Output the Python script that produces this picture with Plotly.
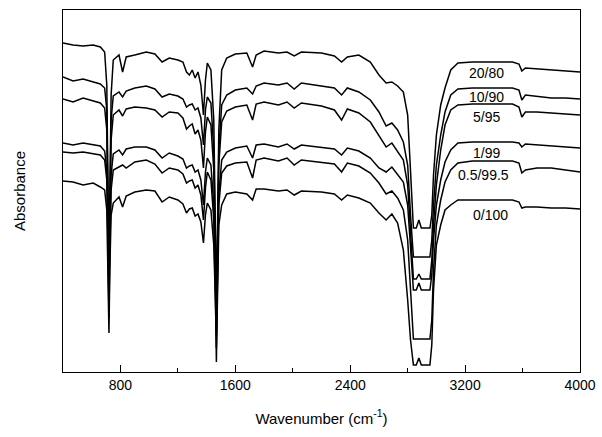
import plotly.graph_objects as go

# Wavenumber grid (cm-1) shared by all spectra
wavenumber = [400, 470, 540, 610, 660, 690, 705, 714, 720, 726, 735, 750, 790, 815, 840, 900, 980, 1040,
              1090, 1140, 1200, 1235, 1260, 1280, 1300, 1320, 1340, 1360, 1378, 1392, 1405, 1430, 1450,
              1463, 1468, 1473, 1485, 1505, 1540, 1600, 1680, 1720, 1745, 1800, 1900, 1960, 2010, 2060,
              2200, 2290, 2340, 2380, 2460, 2540, 2600, 2650, 2690, 2730, 2770, 2800, 2820, 2840, 2860,
              2878, 2895, 2930, 2955, 2968, 2980, 3000, 3030, 3060, 3100, 3150, 3250, 3400, 3530, 3575,
              3595, 3620, 3700, 3800, 3900, 4000]

# Absorbance (arbitrary units, stacked)
a_20_80 = [3.29, 3.27, 3.26, 3.27, 3.25, 3.20, 2.87, 1.72, 0.97, 1.72, 2.77, 3.12, 3.17, 3.00, 3.15, 3.17, 3.20, 3.18,
           3.10, 3.14, 3.12, 3.10, 3.00, 2.97, 3.02, 2.94, 3.00, 2.87, 2.57, 2.92, 3.09, 3.02, 2.52,
           1.22, 0.72, 1.12, 2.42, 3.02, 3.14, 3.18, 3.19, 3.05, 3.17, 3.21, 3.19, 3.20, 3.16, 3.20,
           3.19, 3.16, 3.10, 3.15, 3.17, 3.10, 2.97, 2.89, 2.90, 2.86, 2.80, 2.57, 2.02, 1.44, 1.44,
           1.52, 1.44, 1.44, 1.44, 1.57, 1.97, 2.37, 2.67, 2.84, 3.02, 3.09, 3.10, 3.10, 3.10, 3.08,
           3.01, 3.04, 3.03, 3.02, 3.01, 3.00]

a_10_90 = [2.95, 2.91, 2.93, 2.90, 2.88, 2.84, 2.62, 1.62, 0.87, 1.62, 2.52, 2.76, 2.80, 2.75, 2.81, 2.84, 2.86, 2.83,
           2.75, 2.78, 2.76, 2.73, 2.65, 2.67, 2.68, 2.62, 2.64, 2.54, 2.27, 2.62, 2.75, 2.69, 2.22,
           1.12, 0.62, 1.02, 2.22, 2.67, 2.77, 2.82, 2.84, 2.78, 2.86, 2.89, 2.87, 2.89, 2.83, 2.89,
           2.86, 2.84, 2.77, 2.84, 2.80, 2.72, 2.60, 2.46, 2.49, 2.42, 2.30, 2.07, 1.57, 1.15, 1.15,
           1.15, 1.15, 1.15, 1.15, 1.32, 1.67, 2.07, 2.37, 2.60, 2.77, 2.83, 2.84, 2.84, 2.84, 2.82,
           2.72, 2.77, 2.76, 2.74, 2.74, 2.73]

a_5_95 = [2.73, 2.70, 2.74, 2.71, 2.69, 2.64, 2.42, 1.52, 0.77, 1.52, 2.32, 2.57, 2.62, 2.56, 2.63, 2.65, 2.64, 2.62,
          2.55, 2.60, 2.59, 2.54, 2.43, 2.46, 2.48, 2.38, 2.42, 2.32, 2.04, 2.40, 2.55, 2.47, 2.02,
          1.02, 0.52, 0.92, 2.07, 2.50, 2.61, 2.65, 2.67, 2.52, 2.68, 2.70, 2.67, 2.70, 2.64, 2.69,
          2.66, 2.62, 2.52, 2.63, 2.59, 2.50, 2.37, 2.25, 2.29, 2.21, 2.12, 1.87, 1.37, 0.93, 0.93,
          0.98, 0.93, 0.93, 0.93, 1.12, 1.47, 1.87, 2.22, 2.47, 2.62, 2.67, 2.68, 2.68, 2.68, 2.65,
          2.55, 2.60, 2.60, 2.59, 2.58, 2.57]

a_1_99 = [2.29, 2.27, 2.29, 2.27, 2.26, 2.21, 2.02, 1.32, 0.67, 1.32, 1.97, 2.18, 2.22, 2.17, 2.23, 2.25, 2.25, 2.22,
          2.14, 2.19, 2.16, 2.13, 2.04, 2.06, 2.07, 2.00, 2.02, 1.92, 1.67, 2.00, 2.14, 2.07, 1.67,
          0.87, 0.37, 0.77, 1.77, 2.12, 2.20, 2.24, 2.26, 2.14, 2.27, 2.28, 2.25, 2.28, 2.23, 2.27,
          2.25, 2.23, 2.17, 2.24, 2.21, 2.14, 2.04, 2.00, 2.05, 1.98, 1.90, 1.67, 1.22, 0.82, 0.82,
          0.89, 0.82, 0.82, 0.82, 0.97, 1.32, 1.67, 1.92, 2.10, 2.22, 2.29, 2.30, 2.30, 2.30, 2.29,
          2.25, 2.28, 2.27, 2.26, 2.25, 2.24]

a_05_995 = [2.20, 2.19, 2.20, 2.18, 2.17, 2.12, 1.92, 1.22, 0.54, 1.22, 1.82, 2.02, 2.05, 2.07, 2.04, 2.10, 2.12, 2.08,
            1.99, 2.04, 2.02, 1.98, 1.89, 1.91, 1.92, 1.84, 1.87, 1.77, 1.52, 1.84, 2.00, 1.92, 1.52,
            0.77, 0.24, 0.67, 1.67, 1.99, 2.06, 2.09, 2.10, 1.94, 2.12, 2.14, 2.11, 2.14, 2.07, 2.12,
            2.10, 2.08, 2.00, 2.09, 2.06, 1.99, 1.89, 1.78, 1.81, 1.74, 1.62, 1.32, 0.82, 0.33, 0.33,
            0.33, 0.33, 0.33, 0.33, 0.52, 1.02, 1.47, 1.72, 1.90, 2.02, 2.09, 2.11, 2.11, 2.11, 2.09,
            1.99, 2.02, 2.04, 2.04, 2.02, 2.00]

a_0_100 = [1.91, 1.90, 1.87, 1.89, 1.85, 1.82, 1.62, 1.02, 0.39, 1.02, 1.57, 1.69, 1.75, 1.65, 1.76, 1.80, 1.82, 1.81,
           1.70, 1.75, 1.72, 1.68, 1.59, 1.63, 1.64, 1.56, 1.58, 1.50, 1.29, 1.57, 1.69, 1.62, 1.27,
           0.62, 0.10, 0.52, 1.47, 1.67, 1.78, 1.80, 1.78, 1.72, 1.83, 1.83, 1.81, 1.82, 1.77, 1.81,
           1.80, 1.78, 1.72, 1.77, 1.74, 1.69, 1.59, 1.52, 1.58, 1.49, 1.22, 0.72, 0.32, 0.07, 0.07,
           0.14, 0.07, 0.07, 0.07, 0.27, 0.82, 1.27, 1.47, 1.62, 1.67, 1.72, 1.72, 1.72, 1.72, 1.70,
           1.64, 1.65, 1.65, 1.64, 1.64, 1.63]

series = [a_20_80, a_10_90, a_5_95, a_1_99, a_05_995, a_0_100]
labels = ["20/80", "10/90", "5/95", "1/99", "0.5/99.5", "0/100"]
label_x = [3350, 3350, 3350, 3350, 3330, 3380]
label_y = [2.99, 2.75, 2.55, 2.19, 1.97, 1.57]

for s in series:
    assert len(s) == len(wavenumber), len(s)

fig = go.Figure()
for name, vals in zip(labels, series):
    fig.add_trace(go.Scatter(x=wavenumber, y=vals, mode="lines", name=name,
                             line=dict(color="black", width=1.5), showlegend=False))

for t, lx, ly in zip(labels, label_x, label_y):
    fig.add_annotation(x=lx, y=ly, text=t, showarrow=False,
                       font=dict(family="Liberation Sans, Arial", size=14, color="black"))

fig.update_layout(
    width=602, height=437,
    margin=dict(l=63, r=22, t=10, b=65),
    paper_bgcolor="white", plot_bgcolor="white",
    font=dict(family="Liberation Sans, Arial", size=14, color="black"),
    xaxis=dict(range=[400, 4000], tick0=0, dtick=800, ticks="inside", ticklen=7, tickwidth=1,
               tickcolor="black", showline=True, linecolor="black", linewidth=1, mirror=True,
               showgrid=False, zeroline=False, automargin=False, ticklabeloverflow="allow",
               minor=dict(dtick=400, tick0=0, ticks="inside", ticklen=4, tickcolor="black", showgrid=False),
               title=dict(text="Wavenumber (cm<sup>-1</sup>)", standoff=21,
                          font=dict(size=15))),
    yaxis=dict(range=[0, 3.62], showticklabels=False, ticks="", showline=True, linecolor="black",
               linewidth=1, mirror=True, showgrid=False, zeroline=False, automargin=False,
               title=dict(text="Absorbance", standoff=32, font=dict(size=15))),
)

fig.write_html("out.html", config={"displayModeBar": False},
               post_script="document.body.style.margin='0px';document.body.style.overflow='hidden';")
